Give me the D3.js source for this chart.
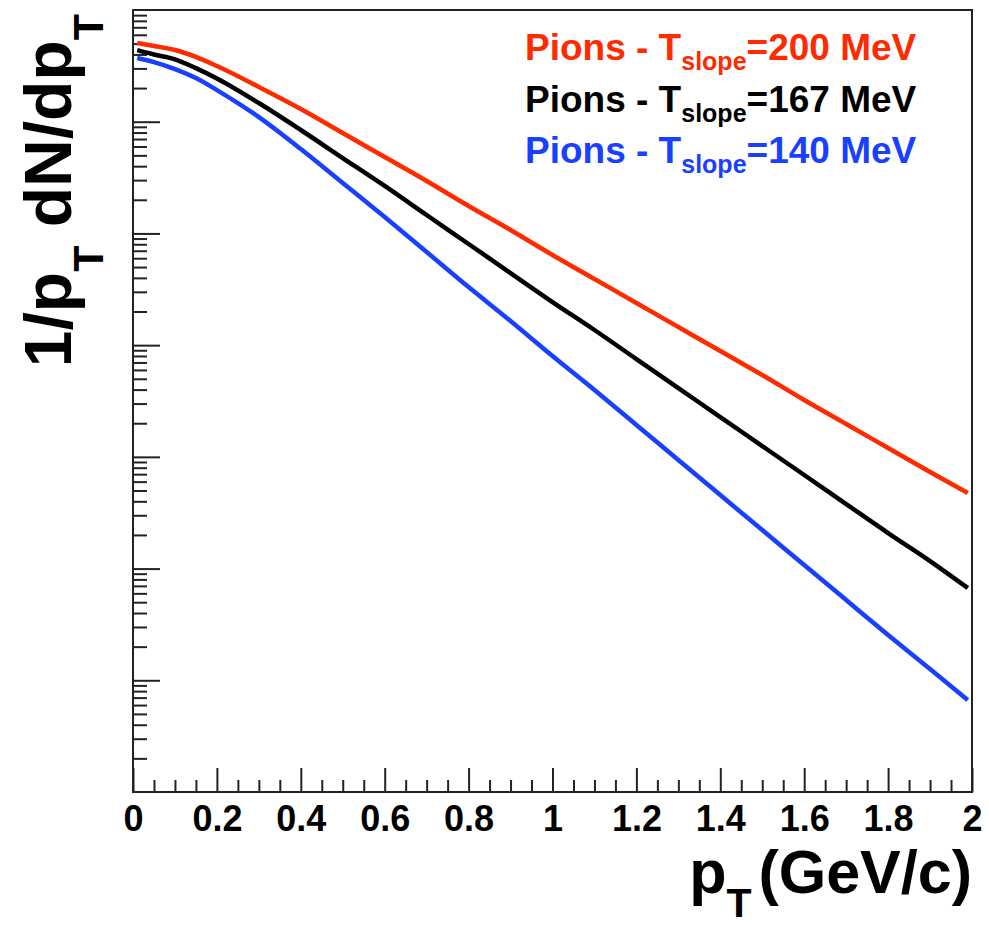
<!DOCTYPE html>
<html>
<head>
<meta charset="utf-8">
<script src="https://cdn.jsdelivr.net/npm/d3@7"></script>
<style>
  html, body { margin: 0; padding: 0; background: #fff; }
  svg { display: block; font-family: "Liberation Sans", Arial, Helvetica, sans-serif; font-weight: bold; }
</style>
</head>
<body>
<div id="chart"></div>
<script>
// pT bin centres (GeV/c)
const pt = [0.01, 0.05, 0.1, 0.15, 0.2, 0.3, 0.4, 0.5, 0.6, 0.7, 0.8, 0.9, 1.0,
            1.1, 1.2, 1.3, 1.4, 1.5, 1.6, 1.7, 1.8, 1.9, 1.99];

// 1/pT dN/dpT (arbitrary units)
const pionsT200 = [5.07, 4.76, 4.38, 3.80, 3.15, 2.05, 1.30, 0.792, 0.483, 0.2946, 0.1759, 0.1073, 0.0641,
                   0.0391, 0.02383, 0.01453, 0.00886, 0.00540, 0.00323, 0.00197, 0.00120, 0.000731, 0.000474];
const pionsT167 = [4.38, 4.00, 3.62, 3.02, 2.44, 1.47, 0.843, 0.473, 0.266, 0.1462, 0.0804, 0.0442, 0.02432,
                   0.01366, 0.00751, 0.00413, 0.00227, 0.00125, 0.000688, 0.000378, 0.000208, 0.0001168, 0.0000670];
const pionsT140 = [3.72, 3.42, 2.96, 2.46, 1.92, 1.10, 0.570, 0.283, 0.1403, 0.0682, 0.0331, 0.01644, 0.00799,
                   0.00397, 0.00193, 0.000937, 0.000455, 0.000221, 0.0001076, 0.0000523, 0.0000254, 0.0000126, 0.00000666];

const seriesNames = ['200', '167', '140'];
const seriesColors = ['#ff2a00', '#000000', '#1a40ff'];
const seriesValues = [pionsT200, pionsT167, pionsT140];

const xTicks = [0, 0.2, 0.4, 0.6, 0.8, 1, 1.2, 1.4, 1.6, 1.8, 2];

const W = 989, H = 926;
const frameL = 133, frameR = 972, frameT = 10, frameB = 792;

const svg = d3.select('#chart').append('svg')
  .attr('width', W).attr('height', H);

const x = d3.scaleLinear().domain([0, 2]).range([frameL, frameR]);
const y = d3.scaleLog().domain([1e-6, 1e1]).range([frameB, frameT]);

// y ticks (log, no labels)
const majorY = d3.range(-5, 1).map((e) => Math.pow(10, e));
const minorY = [];
for (let e = -6; e < 1; e++) {
  for (let m = 2; m <= 9; m++) minorY.push(m * Math.pow(10, e));
}

svg.append('g')
  .attr('transform', `translate(${frameL},0)`)
  .call(d3.axisRight(y).tickValues(majorY).tickSize(27).tickFormat(''))
  .call((g) => g.select('.domain').remove())
  .selectAll('line').attr('stroke', '#222').attr('stroke-width', 2);

svg.append('g')
  .attr('transform', `translate(${frameL},0)`)
  .call(d3.axisRight(y).tickValues(minorY).tickSize(14).tickFormat(''))
  .call((g) => g.select('.domain').remove())
  .selectAll('line').attr('stroke', '#222').attr('stroke-width', 2);

// x ticks
const minorX = d3.range(0, 41).map((i) => i * 0.05).filter((v, i) => i % 4 !== 0);

svg.append('g')
  .attr('transform', `translate(0,${frameB})`)
  .call(d3.axisBottom(x).tickValues(minorX).tickSizeInner(-12).tickSizeOuter(0).tickFormat(''))
  .call((g) => g.select('.domain').remove())
  .selectAll('line').attr('stroke', '#222').attr('stroke-width', 2);

const xAxis = svg.append('g')
  .attr('transform', `translate(0,${frameB})`)
  .call(d3.axisBottom(x).tickValues(xTicks).tickSizeInner(-24).tickSizeOuter(0)
    .tickPadding(13).tickFormat((d) => d3.format('')(d)));
xAxis.select('.domain').remove();
xAxis.selectAll('line').attr('stroke', '#222').attr('stroke-width', 2);
xAxis.selectAll('text')
  .attr('font-size', 36)
  .attr('font-family', '"Liberation Sans", Arial, sans-serif')
  .attr('font-weight', 'bold')
  .attr('fill', '#000');

// curves
const line = d3.line()
  .x((d) => x(d[0]))
  .y((d) => y(d[1]))
  .curve(d3.curveMonotoneX);

seriesValues.forEach((vals, i) => {
  svg.append('path')
    .datum(pt.map((p, j) => [p, vals[j]]))
    .attr('fill', 'none')
    .attr('stroke', seriesColors[i])
    .attr('stroke-width', 4.5)
    .attr('stroke-linejoin', 'round')
    .attr('d', line);
});

// frame
svg.append('rect')
  .attr('x', frameL).attr('y', frameT)
  .attr('width', frameR - frameL).attr('height', frameB - frameT)
  .attr('fill', 'none')
  .attr('stroke', '#222')
  .attr('stroke-width', 2);

// legend
seriesNames.forEach((name, i) => {
  const t = svg.append('text')
    .attr('x', 525)
    .attr('y', 60 + i * 51.5)
    .attr('font-size', 37)
    .attr('fill', seriesColors[i]);
  t.append('tspan').text('Pions - T');
  t.append('tspan').attr('dy', 10).attr('font-size', 25).text('slope');
  t.append('tspan').attr('dy', -10).text('=' + name + ' MeV');
});

// x title
const xt = svg.append('text')
  .attr('x', frameR).attr('y', 893)
  .attr('text-anchor', 'end')
  .attr('font-size', 61);
xt.append('tspan').text('p');
xt.append('tspan').attr('dy', 24).attr('font-size', 41).text('T');
xt.append('tspan').attr('dy', -24).attr('dx', 7).text('(GeV/c)');

// y title
const yt = svg.append('text')
  .attr('transform', 'translate(71,14) rotate(-90)')
  .attr('text-anchor', 'end')
  .attr('font-size', 66);
yt.append('tspan').text('1/p');
yt.append('tspan').attr('dy', 32).attr('font-size', 43).text('T');
yt.append('tspan').attr('dy', -32).text(' dN/dp');
yt.append('tspan').attr('dy', 32).attr('font-size', 43).text('T');
</script>
</body>
</html>
